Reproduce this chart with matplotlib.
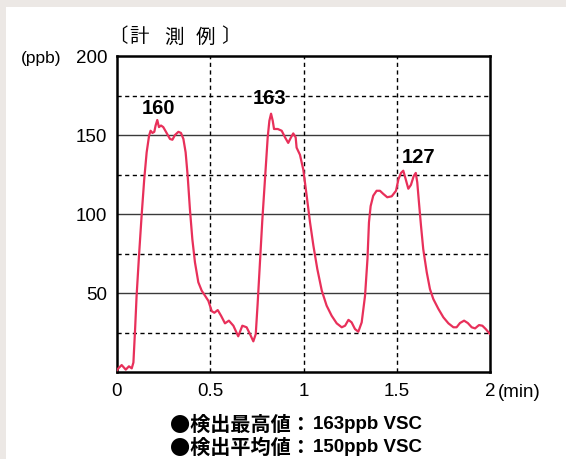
import matplotlib
matplotlib.use("Agg")
import matplotlib.pyplot as plt

plt.rcParams['font.family'] = ['Liberation Sans', 'Noto Sans CJK JP', 'DejaVu Sans']

# data: time (min) and concentration (ppb)
time_min = [0.0, 0.004, 0.025, 0.047, 0.064, 0.079, 0.088, 0.097, 0.105, 0.118, 0.132, 0.146,
            0.159, 0.172, 0.18, 0.19, 0.2, 0.207, 0.216, 0.225, 0.236, 0.248, 0.266, 0.284,
            0.297, 0.311, 0.329, 0.343, 0.356, 0.368, 0.379, 0.391, 0.404, 0.418, 0.436, 0.454,
            0.472, 0.49, 0.508, 0.522, 0.54, 0.558, 0.579, 0.6, 0.624, 0.65, 0.672, 0.695,
            0.713, 0.731, 0.744, 0.754, 0.767, 0.779, 0.794, 0.808, 0.817, 0.826, 0.835, 0.842,
            0.862, 0.883, 0.901, 0.918, 0.933, 0.945, 0.958, 0.963, 0.981, 0.999, 1.017, 1.035,
            1.053, 1.074, 1.098, 1.124, 1.151, 1.178, 1.205, 1.223, 1.241, 1.258, 1.276, 1.294,
            1.312, 1.33, 1.343, 1.351, 1.36, 1.374, 1.392, 1.41, 1.428, 1.449, 1.473, 1.496,
            1.509, 1.523, 1.535, 1.548, 1.562, 1.576, 1.591, 1.602, 1.61, 1.619, 1.63, 1.642,
            1.661, 1.678, 1.696, 1.723, 1.75, 1.777, 1.804, 1.821, 1.839, 1.861, 1.881, 1.902,
            1.92, 1.941, 1.959, 1.977, 1.995, 2.0]
ppb = [1, 1.9, 4.4, 1.5, 3.6, 2.3, 6, 27, 48, 73.6, 99, 122,
       139, 149.6, 152.7, 151.3, 152, 156, 159.5, 155, 156, 155, 151.3, 147.5,
       147, 150, 152, 151.3, 147.5, 139, 124, 103, 84, 69.4, 56.8, 51.5,
       48.3, 45, 38.5, 37.5, 39.2, 35.6, 30.8, 32.5, 29.3, 22.6, 29.3, 28.3,
       24, 19.4, 24, 43, 70.4, 95.8, 123, 148.5, 159, 163.5, 159, 153.8,
       153.8, 152.7, 148.5, 145, 148.5, 151, 148.5, 142, 137.5, 128, 111.6, 94.7,
       80, 65.2, 51.5, 42, 35.6, 30.8, 28.3, 29.3, 33, 31.4, 27.2, 25.5,
       31.4, 48.3, 71.5, 94.7, 105, 111.6, 114.7, 114.7, 112.7, 110.6, 111.2, 114.7,
       122, 126, 127.4, 122, 116, 118.4, 124, 126, 120, 107.4, 92.6, 77.8,
       63, 52.5, 46.2, 40, 34.6, 30.8, 28.3, 28.3, 31, 32.5, 31, 28.3,
       27.6, 29.7, 29.3, 27.2, 24.7, 24]

peak_labels = ['160', '163', '127']
peak_x = [0.22, 0.82, 1.619]
peak_y = [167.7, 173.9, 136.4]

x_ticks = [0, 0.5, 1, 1.5, 2]
x_ticklabels = ['0', '0.5', '1', '1.5', '2']
y_ticks = [50, 100, 150, 200]
y_ticklabels = ['50', '100', '150', '200']
solid_grid_y = [50, 100, 150]
dashed_grid_y = [25, 75, 125, 175]
dashed_grid_x = [0.5, 1, 1.5]

title_chars = ['〔', '計', '測', '例', '〕']
note_heads = ['●検出最高値：', '●検出平均値：']
note_values = ['163ppb VSC', '150ppb VSC']

W, H = 566, 460
fig = plt.figure(figsize=(W / 100, H / 100), dpi=100)
fig.patch.set_facecolor('#ece8e5')
# white panel
fig.patches.append(plt.Rectangle((6 / W, 0), 1, 1 - 8 / H, transform=fig.transFigure,
                                 facecolor='white', edgecolor='none', zorder=-10))

ax = fig.add_axes([117 / W, 87 / H, 373 / W, 316 / H])
ax.set_zorder(5)
ax.set_xlim(0, 2)
ax.set_ylim(0, 200)

for y in solid_grid_y:
    ax.axhline(y, color='#3a3a3a', lw=1.0, zorder=1)
for y in dashed_grid_y:
    ax.axhline(y, color='black', lw=1.0, ls=(0, (3, 2.5)), zorder=1)
for x in dashed_grid_x:
    ax.axvline(x, color='black', lw=1.0, ls=(0, (3, 2.5)), zorder=1)

ax.plot(time_min, ppb, color='#e8305a', lw=1.6, zorder=3,
        solid_joinstyle='round', solid_capstyle='round')

for s in ax.spines.values():
    s.set_linewidth(1.8)
    s.set_color('black')

ax.set_xticks(x_ticks)
ax.set_xticklabels(x_ticklabels)
ax.set_yticks(y_ticks)
ax.set_yticklabels(y_ticklabels)
ax.tick_params(length=0, labelsize=13.5, pad=7)

for lab, px, py in zip(peak_labels, peak_x, peak_y):
    ax.text(px, py, lab, ha='center', va='center', fontsize=14.5, fontweight='bold')

ax.text(-0.30, 200, '(ppb)', ha='right', va='center_baseline', fontsize=12.5, clip_on=False)
ax.text(2.04, -11, '(min)', ha='left', va='center_baseline', fontsize=13.5, clip_on=False)

# title: characters spaced as in the original
title_px = [128, 138.5, 173.5, 205, 221]
title_ha = ['right', 'center', 'center', 'center', 'left']
for ch, px, ha in zip(title_chars, title_px, title_ha):
    fig.text(px / W, 1 - 37 / H, ch, ha=ha, va='center', fontsize=14,
             family=['Noto Sans CJK JP', 'DejaVu Sans'])

for i, (head, val) in enumerate(zip(note_heads, note_values)):
    yc = 1 - (424 + 23 * i) / H
    fig.text(311 / W, yc, head, ha='right', va='center', fontsize=14.5, fontweight='bold',
             family=['Noto Sans CJK JP', 'DejaVu Sans'])
    fig.text(313 / W, yc - 1 / H, val, ha='left', va='center', fontsize=13.5, fontweight='bold',
             family=['Liberation Sans', 'DejaVu Sans'])

fig.savefig('out.png', dpi=100)
